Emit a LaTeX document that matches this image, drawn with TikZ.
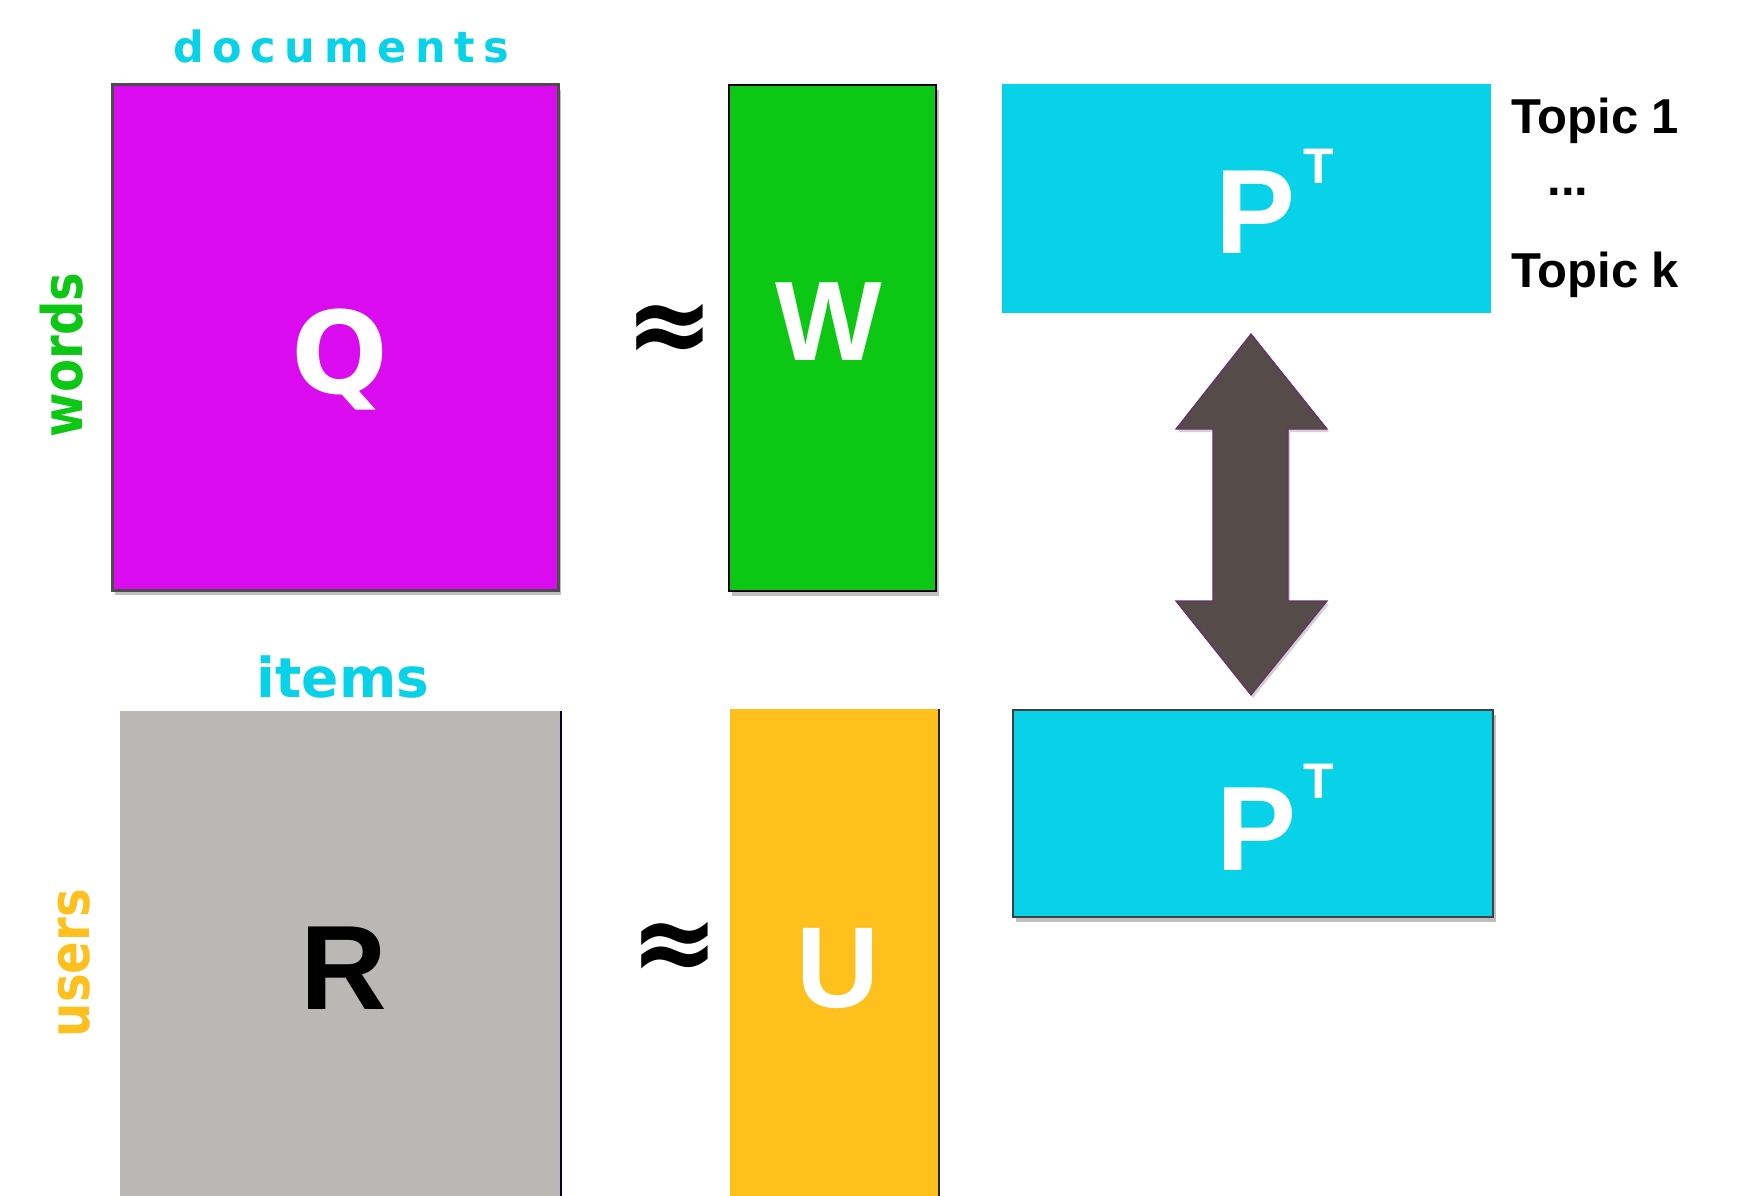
\documentclass[tikz,border=0pt]{standalone}
\usepackage{fontspec}
\usetikzlibrary{shadows}
\newfontfamily\dv{DejaVu Sans}
\newfontfamily\dvcond[FakeStretch=0.86]{DejaVu Sans}
\newfontfamily\dvspaced[LetterSpace=20]{DejaVu Sans}
\newfontfamily\ar{Liberation Sans}
\definecolor{qmag}{HTML}{DB0BF0}
\definecolor{wgreen}{HTML}{0CC815}
\definecolor{pcyan}{HTML}{08D2E8}
\definecolor{rgray}{HTML}{BBB7B4}
\definecolor{uorange}{HTML}{FDC01C}
\definecolor{arrowfill}{HTML}{554C49}
\definecolor{arrowedge}{HTML}{6B2F6B}
\tikzset{
  mat/.style={rectangle, inner sep=0pt, outer sep=0pt},
  shad/.style={drop shadow={shadow xshift=3pt, shadow yshift=-5pt, opacity=0.25, fill=black}},
  ashad/.style={drop shadow={shadow xshift=2pt, shadow yshift=-3pt, opacity=0.18, fill=black}},
  big/.style={inner sep=0pt, anchor=base, text=white, font=\ar\bfseries\fontsize{115}{120}\selectfont},
  pbig/.style={inner sep=0pt, anchor=base west, text=white, font=\ar\bfseries\fontsize{120}{125}\selectfont},
  sup/.style={inner sep=0pt, anchor=base west, text=white, font=\ar\bfseries\fontsize{50}{55}\selectfont},
  approx/.style={inner sep=0pt, font=\dv\bfseries\fontsize{106}{106}\selectfont},
  topic/.style={inner sep=0pt, anchor=base west, font=\ar\bfseries\fontsize{49}{54}\selectfont},
  sidelbl/.style={inner sep=0pt, anchor=base, rotate=90, font=\dvcond\bfseries\fontsize{56}{60}\selectfont},
}
\begin{document}
\begin{tikzpicture}[x=1pt,y=-1pt]
\useasboundingbox (0,0) rectangle (1741,1196);
\fill[white] (0,0) rectangle (1741,1196);

% top row
\node[mat, shad, fill=qmag, draw=black!70, line width=3pt, minimum width=446pt, minimum height=505pt] (Qbox) at (335,337.5) {};
\node[mat, shad, fill=wgreen, draw=black, line width=2pt, minimum width=207pt, minimum height=506pt] (Wbox) at (832.5,338) {};
\node[mat, fill=pcyan, minimum width=489pt, minimum height=229pt] (Ptop) at (1246.5,198.5) {};

\node[inner sep=0pt, anchor=base west, text=pcyan, font=\dvspaced\bfseries\fontsize{43}{48}\selectfont] (docs) at (173,63) {documents};
\node[sidelbl, text=wgreen] (words) at (82,355) {words};
\node[big, font=\dv\bfseries\fontsize{114}{120}\selectfont] (Q) at (340,393) {Q};
\node[approx] (approx1) at (670,334) {\scalebox{1}[1.08]{≈}};
\node[big, font=\ar\bfseries\fontsize{113}{118}\selectfont] (W) at (829,360) {W};
\node[pbig] (P1) at (1215,253) {P};
\node[sup] (T1) at (1303,183) {T};
\node[topic] (topic1) at (1511,134) {Topic 1};
\node[topic, anchor=base] (dots) at (1568,196) {...};
\node[topic] (topick) at (1511,287) {Topic k};

% double arrow
\coordinate (arr) at (1251,514.5);
\draw[fill=arrowfill, draw=arrowedge, line width=1.2pt, ashad]
  (1251,334) -- (1327,429) -- (1288,429) -- (1288,601) -- (1327,601) -- (1251,695)
  -- (1176,601) -- (1213,601) -- (1213,429) -- (1176,429) -- cycle;

% bottom row
\node[mat, fill=rgray, minimum width=441pt, minimum height=485pt] (Rbox) at (340.5,953.5) {};
\draw[line width=2pt, draw=black!80!blue] (Rbox.north east) -- (Rbox.south east);
\node[mat, fill=uorange, minimum width=209pt, minimum height=487pt] (Ubox) at (834.5,952.5) {};
\draw[line width=2pt, draw=black!85] (Ubox.north east) -- (Ubox.south east);
\node[mat, shad, fill=pcyan, draw=black!75, line width=2pt, minimum width=480pt, minimum height=207pt] (Pbot) at (1253,813.5) {};

\node[inner sep=0pt, anchor=base, text=pcyan, font=\dv\bfseries\fontsize{55}{60}\selectfont] (items) at (343,697) {items};
\node[sidelbl, text=uorange] (users) at (89,963) {users};
\node[inner sep=0pt, anchor=base, text=black, font=\ar\bfseries\fontsize{120}{124}\selectfont] (R) at (344,1009) {R};
\node[approx] (approx2) at (675,952) {\scalebox{1}[1.08]{≈}};
\node[big] (U) at (838,1007) {U};
\node[pbig] (P2) at (1216,870) {P};
\node[sup] (T2) at (1303,798) {T};
\end{tikzpicture}
\end{document}
